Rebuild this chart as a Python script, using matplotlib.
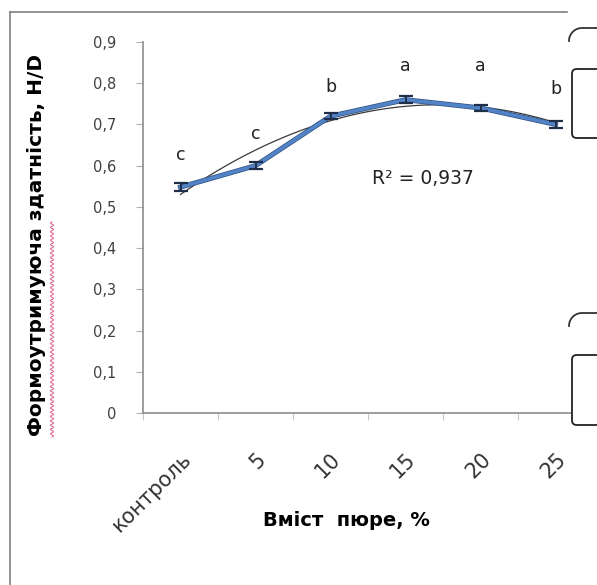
import matplotlib
matplotlib.use("Agg")
import matplotlib.pyplot as plt
import numpy as np
from matplotlib.lines import Line2D
from matplotlib.patches import FancyBboxPatch
import matplotlib.patheffects as pe

# Формоутримуюча здатність залежно від вмісту пюре
categories = ["контроль", "5", "10", "15", "20", "25"]
values = [0.548, 0.600, 0.720, 0.760, 0.740, 0.700]
errors = [0.010, 0.008, 0.008, 0.008, 0.008, 0.008]
letters = ["c", "c", "b", "a", "a", "b"]
r2_text = "R² = 0,937"
yticks = [0, 0.1, 0.2, 0.3, 0.4, 0.5, 0.6, 0.7, 0.8, 0.9]

W, H = 597, 585
fig = plt.figure(figsize=(W / 100, H / 100), dpi=100)
fig.patch.set_facecolor("white")
plt.rcParams["font.family"] = ["DejaVu Sans"]


def fx(px):
    return px / W


def fy(py):
    return 1 - py / H


ax = fig.add_axes([fx(143), fy(413), fx(593) - fx(143), fy(42) - fy(413)])
x = np.arange(len(categories)) + 0.5

# polynomial trend line (order 2)
coef = np.polyfit(x, values, 2)
xt = np.linspace(x[0], x[-1], 200)
ax.plot(xt, np.polyval(coef, xt), color="#3a3a3a", lw=0.9, zorder=2)

ax.plot(x, values, color="#5283c6", lw=2.6, zorder=3,
        path_effects=[pe.Stroke(linewidth=3.6, foreground="#2d4f80"), pe.Normal()])
ax.errorbar(x, values, yerr=errors, fmt="none", ecolor="#1f2f4a", elinewidth=1.4,
            capsize=5, capthick=1.6, zorder=4)

letter_off = [0.055, 0.055, 0.05, 0.06, 0.08, 0.065]
for xi, v, t, o in zip(x, values, letters, letter_off):
    ax.text(xi, v + o, t, ha="center", va="bottom", fontsize=12.5, color="#222222")
ax.text(3.73, 0.545, r2_text, ha="center", va="bottom", fontsize=13.5, color="#222222")

ax.set_xlim(0, 6)
ax.set_ylim(0, 0.9)
for s in ["top", "right"]:
    ax.spines[s].set_visible(False)
for s in ["left", "bottom"]:
    ax.spines[s].set_color("#8c8c8c")
    ax.spines[s].set_linewidth(1.2)

ax.set_yticks(yticks)
ax.set_yticklabels(["0" if v == 0 else f"{v:.1f}".replace(".", ",") for v in yticks],
                   fontsize=10.5, color="#404040")
ax.tick_params(axis="y", length=5, color="#b0b0b0", pad=14)

ax.set_xticks(np.arange(7))
ax.set_xticklabels([])
ax.set_xticks(x, minor=True)
ax.set_xticklabels(categories, minor=True, rotation=45, ha="right",
                   rotation_mode="anchor", fontsize=15, color="#333333")
ax.tick_params(axis="x", which="minor", length=0, pad=26)
ax.tick_params(axis="x", which="major", length=5, color="#c8c8c8")

fig.text(fx(37), fy(245), "Формоутримуюча здатність, H/D", rotation=90,
         ha="center", va="center", fontsize=14.5, fontweight="bold")
fig.text(fx(346), fy(520), "Вміст  пюре, %", ha="center", va="center",
         fontsize=14, fontweight="bold")

# spell-check wave under the first word of the y label
wy = np.linspace(fy(437), fy(222), 300)
wx = fx(52) + 0.0028 * np.sin(np.linspace(0, 100 * np.pi, 300))
fig.add_artist(Line2D(wx, wy, color="#d9507a", lw=0.8, alpha=0.8))

# outer frame
fig.add_artist(Line2D([fx(10), fx(567)], [fy(12), fy(12)], color="#808080", lw=1.2))
fig.add_artist(Line2D([fx(10), fx(10)], [fy(12), fy(585)], color="#808080", lw=1.2))

# neighbouring boxes along the right edge
for top, bottom in [(69, 138), (355, 425)]:
    fig.add_artist(FancyBboxPatch((fx(572), fy(bottom)), fx(80), fy(top) - fy(bottom),
                                  boxstyle="round,pad=0,rounding_size=0.008",
                                  fc="white", ec="#222222", lw=1.3, zorder=10))
for top in [28, 313]:
    t = np.linspace(np.pi, np.pi / 2, 20)
    cx, cy, r = 582, top + 13, 13
    arc_x = np.concatenate([cx + r * np.cos(t), [600]])
    arc_y = np.concatenate([cy - r * np.sin(t), [top]])
    fig.add_artist(Line2D(fx(arc_x), fy(arc_y), color="#333333", lw=1.3, zorder=10))

fig.savefig("out.png", dpi=100)
